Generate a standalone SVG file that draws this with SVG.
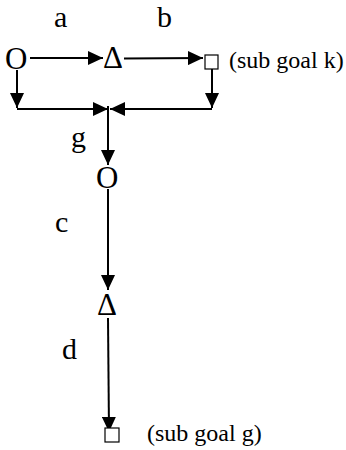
<svg xmlns="http://www.w3.org/2000/svg" width="346" height="450" viewBox="0 0 346 450">
<style>
.lbl{font-family:"Liberation Serif","Times New Roman",serif;font-size:30px;fill:#000}
.sym{font-family:"Liberation Serif","Times New Roman",serif;font-size:31px;fill:#000}
.note{font-family:"Liberation Serif","Times New Roman",serif;font-size:24px;fill:#000}
.ln{stroke:#000;stroke-width:2;fill:none}
.sq{stroke:#000;stroke-width:1.2;fill:#fff}
</style>
<defs>
<marker id="ah" viewBox="0 0 15 14" refX="15" refY="7" markerWidth="15" markerHeight="14" markerUnits="userSpaceOnUse" orient="auto">
<path d="M0,0 L15,7 L0,14 Z" fill="#000"/>
</marker>
</defs>
<rect width="346" height="450" fill="#fff"/>
<g id="labels">
<text class="lbl" x="54" y="27">a</text>
<text class="lbl" x="157" y="27">b</text>
<text class="lbl" x="71" y="147">g</text>
<text class="lbl" x="55" y="232">c</text>
<text class="lbl" x="62" y="359">d</text>
</g>
<g id="connectors">
<line class="ln" x1="30" y1="58" x2="103" y2="58" marker-end="url(#ah)"/>
<line class="ln" x1="124" y1="58.5" x2="203" y2="58" marker-end="url(#ah)"/>
<line class="ln" x1="17" y1="70" x2="17" y2="108" marker-end="url(#ah)"/>
<polyline class="ln" points="17,109 108,109" marker-end="url(#ah)"/>
<line class="ln" x1="212" y1="69" x2="212" y2="108" marker-end="url(#ah)"/>
<polyline class="ln" points="212,109 110,109" marker-end="url(#ah)"/>
<line class="ln" x1="108" y1="106" x2="108" y2="165" marker-end="url(#ah)"/>
<line class="ln" x1="108" y1="189" x2="108" y2="290" marker-end="url(#ah)"/>
<line class="ln" x1="108" y1="318" x2="109" y2="432" marker-end="url(#ah)"/>
</g>
<g id="n-o1"><text class="sym" x="5" y="69">O</text></g>
<g id="n-d1"><text class="sym" x="103" y="68">Δ</text></g>
<g id="n-s1"><rect class="sq" x="205" y="55" width="13" height="14"/><text class="note" x="229" y="68">(sub goal k)</text></g>
<g id="n-o2"><text class="sym" x="96" y="188">O</text></g>
<g id="n-d2"><text class="sym" x="97" y="315">Δ</text></g>
<g id="n-s2"><rect class="sq" x="105" y="428" width="14" height="14"/><text class="note" x="147" y="441">(sub goal g)</text></g>
</svg>
